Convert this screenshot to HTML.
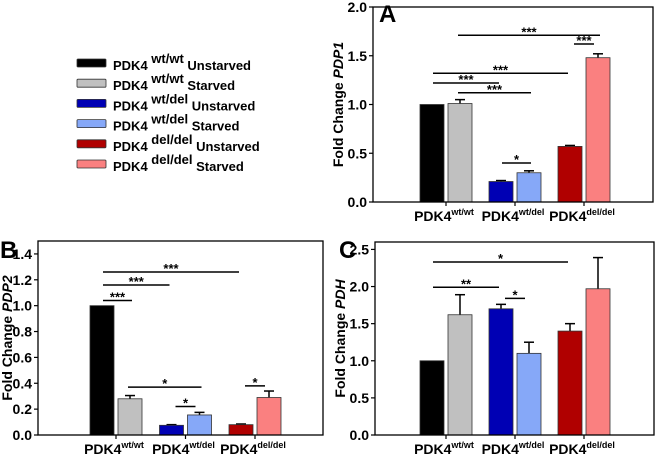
<!DOCTYPE html>
<html><head><meta charset="utf-8"><style>
body{margin:0;background:#fff}
svg{display:block;font-family:"Liberation Sans",Arial,sans-serif}
</style></head><body>
<svg id="fig" width="655" height="459">
<g id="legend"></g>
</svg>
<script>
const groups = ["wt/wt","wt/del","del/del"];
const colors = ["#000000","#c0c0c0","#0000b4","#86a8f8","#b00000","#fa8080"];
const legendLabels = [["wt/wt","Unstarved"],["wt/wt","Starved"],["wt/del","Unstarved"],["wt/del","Starved"],["del/del","Unstarved"],["del/del","Starved"]];
const valuesA = [1.0,1.01,0.21,0.30,0.57,1.48];
const errorsA = [0,0.04,0.01,0.02,0.01,0.04];
const valuesB = [1.0,0.28,0.075,0.155,0.08,0.29];
const errorsB = [0,0.025,0.005,0.02,0.005,0.05];
const valuesC = [1.0,1.62,1.70,1.10,1.40,1.97];
const errorsC = [0,0.27,0.06,0.15,0.10,0.42];
const ticksA = ["0.0","0.5","1.0","1.5","2.0"];
const ticksB = ["0.0","0.2","0.4","0.6","0.8","1.0","1.2","1.4"];
const ticksC = ["0.0","0.5","1.0","1.5","2.0","2.5"];
const sigA = [[1,5,1.71,"***"],[5,5,1.62,"***"],[0,4,1.32,"***"],[0,2,1.22,"***"],[1,3,1.12,"***"],[2,3,0.40,"*"]];
const sigB = [[0,4,1.26,"***"],[0,2,1.16,"***"],[0,1,1.04,"***"],[1,3,0.37,"*"],[3,3,0.22,"*"],[5,5,0.38,"*"]];
const sigC = [[0,4,2.33,"*"],[0,2,1.99,"**"],[3,3,1.84,"*"]];

const NS="http://www.w3.org/2000/svg";
const svg=document.getElementById('fig');
function el(tag,attrs,parent){const e=document.createElementNS(NS,tag);for(const k in attrs)e.setAttribute(k,attrs[k]);(parent||svg).appendChild(e);return e;}

function panel(p){
  const g=el('g',{});
  
  
  const y=v=>p.bottom-(v-0)/p.ymax*(p.bottom-p.top);
  const barW=24;
  const barX=i=>{const gi=Math.floor(i/2);const c=p.c0+gi*p.step;return (i%2===0)?c-barW-2:c+2;};
  p.vals.forEach((v,i)=>{
    const x=barX(i);
    if(p.errs[i]>0){
      const ey=y(v+p.errs[i]);
      const l=el('line',{x1:x+barW/2,x2:x+barW/2,y1:y(v),y2:ey,stroke:'#000','stroke-width':1.5},g);
      
      const c=el('line',{x1:x+barW/2-5,x2:x+barW/2+5,y1:ey,y2:ey,stroke:'#000','stroke-width':1.5},g);
      
    }
    const r=el('rect',{x:x,y:y(v),width:barW,height:p.bottom-y(v),fill:colors[i],stroke:'#333','stroke-width':0.8},g);
    
    
  });
  p.sig.forEach(s=>{
    let x1,x2;
    if(s[0]===s[1]){const gi=Math.floor(s[0]/2);const c=p.c0+gi*p.step;x1=c-10;x2=c+10;}
    else{x1=barX(s[0])+(s[0]%2===0?13:10);x2=barX(s[1])+(s[1]%2===0?10:14);}
    const yy=y(s[2]);
    const l=el('line',{x1:x1,x2:x2,y1:yy,y2:yy,stroke:'#000','stroke-width':1.5},g);
    
    const t=el('text',{x:(x1+x2)/2,y:yy+1,'text-anchor':'middle','font-size':13,'font-weight':'bold'},g);
    t.textContent=s[3];
    
  });
  const b=el('rect',{x:p.left,y:p.top,width:p.right-p.left,height:p.bottom-p.top,fill:'none',stroke:'#000','stroke-width':1.3},g);
  
  p.ticks.forEach(t=>{
    const yy=y(parseFloat(t));
    el('line',{x1:p.left-4,x2:p.left,y1:yy,y2:yy,stroke:'#000','stroke-width':1.2},g);
    const tx=el('text',{x:p.left-6,y:yy+5,'text-anchor':'end','font-size':14,'font-weight':'bold'},g);
    tx.textContent=t;
    
  });
  groups.forEach((gname,gi)=>{
    const c=p.c0+gi*p.step;
    el('line',{x1:c,x2:c,y1:p.bottom,y2:p.bottom+4,stroke:'#000','stroke-width':1.2},g);
    const t=el('text',{x:c-2,y:p.bottom+19,'text-anchor':'middle','font-size':14,'font-weight':'bold'},g);
    
    const a=el('tspan',{},t);a.textContent='PDK4';
    const s=el('tspan',{'font-size':9,dy:-6},t);s.textContent=gname;
  });
  const yl=el('text',{x:0,y:0,transform:`translate(${p.ylx},${(p.top+p.bottom)/2}) rotate(-90)`,'text-anchor':'middle','font-size':14,'font-weight':'bold'},g);
  
  const a1=el('tspan',{},yl);a1.textContent='Fold Change ';
  const a2=el('tspan',{'font-style':'italic'},yl);a2.textContent=p.gene;
  const L=el('text',{x:p.lx,y:p.ly,'font-size':24,'font-weight':'bold'},g);
  L.textContent=p.key.toUpperCase();
  
}
panel({key:'a',left:373,right:653,top:7,bottom:202,ymax:2.0,c0:446,step:69,vals:valuesA,errs:errorsA,ticks:ticksA,sig:sigA,gene:'PDP1',ylx:343,lx:379,ly:22});
panel({key:'b',left:38,right:323,top:241,bottom:435,ymax:1.5,c0:116,step:69.5,vals:valuesB,errs:errorsB,ticks:ticksB,sig:sigB,gene:'PDP2',ylx:12,lx:0,ly:258});
panel({key:'c',left:375,right:654,top:242,bottom:435,ymax:2.6,c0:446,step:69,vals:valuesC,errs:errorsC,ticks:ticksC,sig:sigC,gene:'PDH',ylx:345,lx:339,ly:258});
const lg=document.getElementById('legend');
legendLabels.forEach((lab,i)=>{
  const yy=63+i*20.2;
  const r=el('rect',{x:77,y:yy-4,width:29,height:8,fill:colors[i],stroke:'#333','stroke-width':0.8,rx:1},lg);
  
  const t=el('text',{x:113,y:yy+7,'font-size':13,'font-weight':'bold'},lg);
  
  const a=el('tspan',{},t);a.textContent='PDK4 ';
  const s=el('tspan',{dy:-7},t);s.textContent=lab[0];
  const u=el('tspan',{dy:7},t);u.textContent=' '+lab[1];
});
</script>
</body></html>
